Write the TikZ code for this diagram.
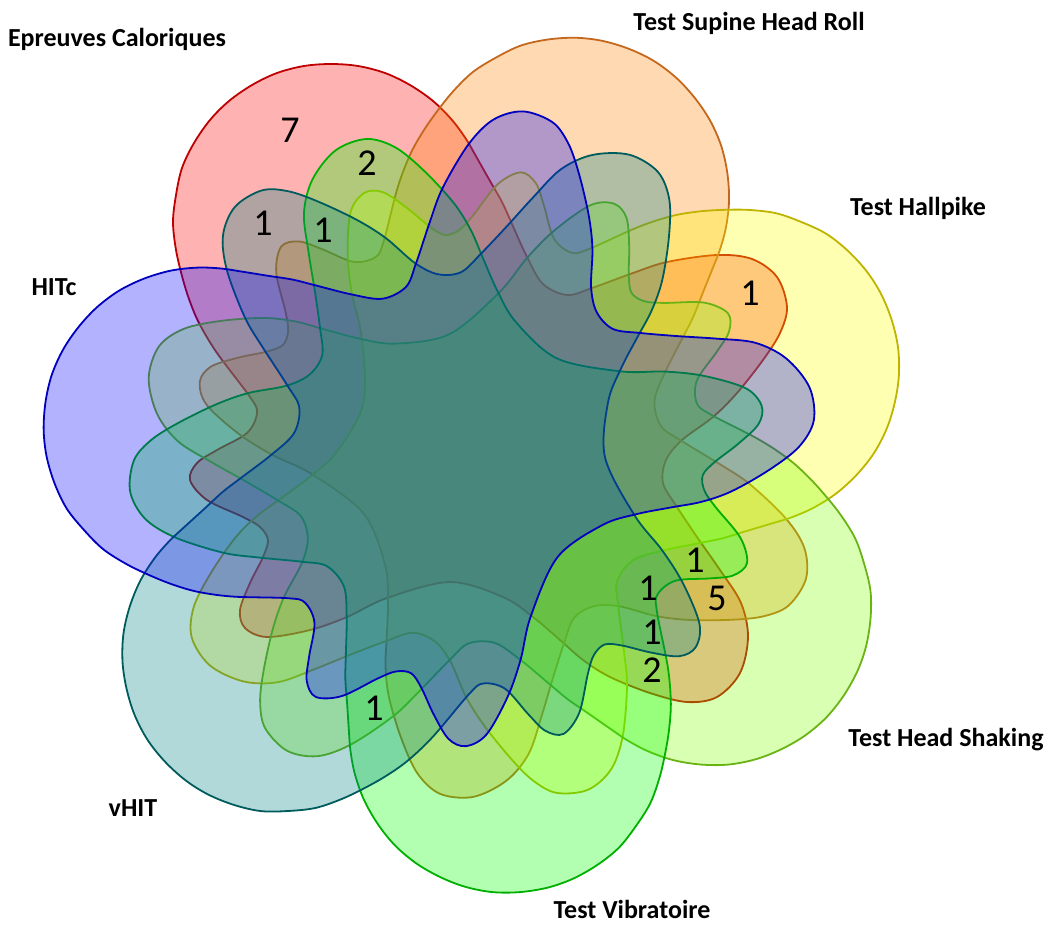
\documentclass[tikz,border=0pt]{standalone}
\usepackage{fontspec}
\setmainfont{Carlito}
\definecolor{fRed}{RGB}{255,0,0}
\definecolor{sRed}{RGB}{190,0,0}
\definecolor{fOrange}{RGB}{255,128,0}
\definecolor{sOrange}{RGB}{196,104,30}
\definecolor{fYellow}{RGB}{255,255,0}
\definecolor{sYellow}{RGB}{190,180,0}
\definecolor{fLime}{RGB}{128,255,0}
\definecolor{sLime}{RGB}{105,180,20}
\definecolor{fGreen}{RGB}{0,255,0}
\definecolor{sGreen}{RGB}{0,175,0}
\definecolor{fTeal}{RGB}{0,128,128}
\definecolor{sTeal}{RGB}{0,92,92}
\definecolor{fBlue}{RGB}{0,0,255}
\definecolor{sBlue}{RGB}{0,0,190}
\tikzset{
  setshape/.style={line width=1.8pt, fill opacity=0.3, draw opacity=1},
  num/.style={font=\fontsize{38}{42}\selectfont, inner sep=0pt, text=black},
  lab/.style={font=\bfseries\fontsize{26}{30}\selectfont, inner sep=0pt, text=black},
}
\newcommand{\vennset}[3]{%
  \path[setshape, fill=#1, draw=#2, rotate around={#3:(478,458)}]
    plot[smooth cycle, tension=0.55] coordinates {
      (176,250) (173,222) (176,195) (182,168) (194,143) (210,120) (229,101)
      (252,85) (277,73) (304,66) (331,64) (358,66) (385,73) (410,85)
      (433,101) (452,120) (466,139) (477,158) (490,181) (502,202) (512,224)
      (527,257) (543,284) (567,295)
      (592,288) (633,273) (667,262) (717,255) (752,259) (777,277) (787,307)
      (780,333) (763,360) (737,393) (713,417) (682,440) (666,460) (663,483)
      (677,507) (697,537) (720,570) (741,603) (748,637) (740,673) (717,697)
      (687,702) (650,693) (610,677) (583,660) (560,640) (533,617) (503,597)
      (450,582) (387,598) (347,617) (310,630) (267,637) (245,628) (240,610)
      (250,583) (263,557) (268,540) (260,527) (243,517) (207,500) (190,480)
      (197,463) (217,450) (247,433) (257,413) (250,397) (217,353) (199,323)
      (189,299) (182,276)};}
\begin{document}
\begin{tikzpicture}[x=1pt,y=-1pt]
\useasboundingbox (0,0) rectangle (1047,924);
\vennset{fRed}{sRed}{0}
\vennset{fOrange}{sOrange}{-51.43}
\vennset{fYellow}{sYellow}{-102.86}
\vennset{fLime}{sLime}{-154.29}
\vennset{fGreen}{sGreen}{-205.71}
\vennset{fTeal}{sTeal}{-257.14}
\vennset{fBlue}{sBlue}{-308.57}
% counts
\node[num] (c7) at (290,130) {7};
\node[num] (c2a) at (367,163) {2};
\node[num] (c1a) at (263,223) {1};
\node[num] (c1b) at (323,230) {1};
\node[num] (c1c) at (750,293) {1};
\node[num] (c1d) at (695,560) {1};
\node[num] (c1e) at (648,588) {1};
\node[num] (c5) at (717,598) {5};
\node[num] (c1f) at (652,632) {1};
\node[num] (c2b) at (652,670) {2};
\node[num] (c1g) at (374,708) {1};
% labels
\node[lab] (lEC) at (117,39) {Epreuves Caloriques};
\node[lab] (lSH) at (749,23) {Test Supine Head Roll};
\node[lab] (lHP) at (918,208) {Test Hallpike};
\node[lab] (lHS) at (946,740) {Test Head Shaking};
\node[lab] (lTV) at (632,909) {Test Vibratoire};
\node[lab] (lVH) at (133,808) {vHIT};
\node[lab] (lHI) at (54,287) {HITc};
\end{tikzpicture}
\end{document}
